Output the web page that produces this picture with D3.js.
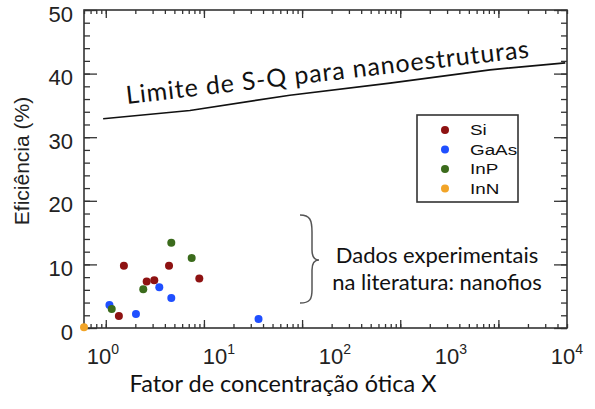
<!DOCTYPE html>
<html>
<head>
<meta charset="utf-8">
<script src="https://cdn.jsdelivr.net/npm/d3@7"></script>
<style>
  body { margin: 0; background: #fff; }
</style>
</head>
<body>
<div id="chart"></div>
<script>
// ===== values =====
var siX   = [1.53, 1.36, 2.61, 3.12, 4.41, 8.97];
var siY   = [9.8, 1.9, 7.3, 7.5, 9.8, 7.8];
var gaasX = [1.09, 2.03, 3.51, 4.65, 36];
var gaasY = [3.6, 2.2, 6.4, 4.7, 1.4];
var inpX  = [1.15, 2.41, 4.65, 7.5];
var inpY  = [3.0, 6.1, 13.4, 11.0];
var innX  = [0.6];
var innY  = [0.1];

// S-Q limit curve
var sqX = [0.94, 7.2, 75, 785, 8200, 48000];
var sqY = [32.9, 34.2, 36.6, 38.5, 40.6, 41.7];

var legendNames  = ["Si", "GaAs", "InP", "InN"];
var legendColors = ["#8e1212", "#1f4fff", "#3b6b1c", "#f2a427"];
var yTickValues  = [0, 10, 20, 30, 40, 50];
var xLabelPowers = [0, 1, 2, 3, 4];

var seriesX = [siX, gaasX, inpX, innX];
var seriesY = [siY, gaasY, inpY, innY];

var svg = d3.select("#chart")
    .append("svg")
    .attr("width", 595)
    .attr("height", 409)

var x = d3.scaleLog().domain([0.6, 5e4]).range([84, 567])
var y = d3.scaleLinear().domain([0, 50]).range([328, 10])
// the tick labels in the figure sit on a slightly wider spacing than the ticks
var xLab = d3.scaleLog().domain([1, 1e4]).range([103, 567])

var majorX = xLabelPowers.map(function(p){ return Math.pow(10, p) })
var minorX = x.ticks()
var minorY = d3.range(0, 51, 2)

function styleTicks(g){
    g.select(".domain").remove()
    g.selectAll("line").attr("stroke", "#333").attr("stroke-width", 1.3)
}

// bottom + top ticks
svg.append("g").attr("transform", "translate(0,328)")
    .call(d3.axisBottom(x).tickValues(minorX).tickSize(-4).tickFormat(""))
    .call(styleTicks)
svg.append("g").attr("transform", "translate(0,328)")
    .call(d3.axisBottom(x).tickValues(majorX).tickSize(-8).tickFormat(""))
    .call(styleTicks)
svg.append("g").attr("transform", "translate(0,10)")
    .call(d3.axisTop(x).tickValues(minorX).tickSize(-4).tickFormat(""))
    .call(styleTicks)
svg.append("g").attr("transform", "translate(0,10)")
    .call(d3.axisTop(x).tickValues(majorX).tickSize(-8).tickFormat(""))
    .call(styleTicks)

// left + right ticks
svg.append("g").attr("transform", "translate(84,0)")
    .call(d3.axisLeft(y).tickValues(minorY).tickSize(-6).tickFormat(""))
    .call(styleTicks)
var yAx = svg.append("g").attr("transform", "translate(84,0)")
    .call(d3.axisLeft(y).tickValues(yTickValues).tickSize(-13).tickPadding(11))
    .call(styleTicks)
yAx.selectAll("text")
    .attr("font-family", "Liberation Sans, Arial, sans-serif")
    .attr("font-size", "22px")
    .attr("fill", "#222")
    .attr("dy", "0.5em")
svg.append("g").attr("transform", "translate(567,0)")
    .call(d3.axisRight(y).tickValues(minorY).tickSize(-6).tickFormat(""))
    .call(styleTicks)
svg.append("g").attr("transform", "translate(567,0)")
    .call(d3.axisRight(y).tickValues(yTickValues).tickSize(-13).tickFormat(""))
    .call(styleTicks)

// frame
svg.append("rect")
    .attr("x", 84).attr("y", 10)
    .attr("width", 567 - 84).attr("height", 328 - 10)
    .attr("fill", "none")
    .attr("stroke", "#333")
    .attr("stroke-width", 1.6)

// x tick labels 10^n
var xl = svg.append("g").selectAll("text")
    .data(xLabelPowers)
    .enter().append("text")
    .attr("x", function(p){ return xLab(Math.pow(10, p)) })
    .attr("y", 364)
    .attr("text-anchor", "middle")
    .attr("font-family", "Liberation Sans, Arial, sans-serif")
    .attr("font-size", "22px")
    .attr("fill", "#222")
xl.append("tspan").text("10")
xl.append("tspan")
    .text(function(p){ return p })
    .attr("font-size", "14px")
    .attr("dy", -10)

// S-Q line
var sqLine = d3.line()
    .x(function(d){ return x(d[0]) })
    .y(function(d){ return y(d[1]) })
svg.append("path")
    .datum(d3.zip(sqX, sqY))
    .attr("d", sqLine)
    .attr("fill", "none")
    .attr("stroke", "#111")
    .attr("stroke-width", 1.7)

svg.append("text")
    .text("Limite de S-Q para nanoestruturas")
    .attr("transform", "translate(127,104) rotate(-6.6)")
    .attr("font-family", "Lato, sans-serif")
    .attr("font-size", "25px")
    .attr("letter-spacing", "0.9px")
    .attr("fill", "#111")

// data points
seriesX.forEach(function(xs, k){
    svg.append("g").selectAll("circle")
        .data(d3.zip(xs, seriesY[k]))
        .enter().append("circle")
        .attr("cx", function(d){ return x(d[0]) })
        .attr("cy", function(d){ return y(d[1]) })
        .attr("r", 4)
        .attr("fill", legendColors[k])
})

// legend (text in the source figure is stretched sideways)
svg.append("rect")
    .attr("x", 417).attr("y", 115)
    .attr("width", 101).attr("height", 87)
    .attr("fill", "#fff")
    .attr("stroke", "#333")
    .attr("stroke-width", 1.6)
var leg = svg.append("g").selectAll("g")
    .data(legendNames)
    .enter().append("g")
    .attr("transform", function(d, i){ return "translate(0," + (i * 19.5) + ")" })
leg.append("circle")
    .attr("cx", 445).attr("cy", 130)
    .attr("r", 4)
    .attr("fill", function(d, i){ return legendColors[i] })
leg.append("text")
    .text(function(d){ return d })
    .attr("transform", "translate(470,135) scale(1.3,1)")
    .attr("font-family", "Liberation Sans, Arial, sans-serif")
    .attr("font-size", "14.5px")
    .attr("fill", "#111")

// brace + note
svg.append("path")
    .attr("d", "M300,215 C310,215 312,220 312,232 L312,250 C312,257 314,260 319,260 C314,260 312,263 312,270 L312,290 C312,299 310,303 300,303")
    .attr("fill", "none")
    .attr("stroke", "#555")
    .attr("stroke-width", 1.5)
var note = svg.append("text")
    .attr("text-anchor", "middle")
    .attr("font-family", "Lato, sans-serif")
    .attr("font-size", "22px")
    .attr("fill", "#111")
note.append("tspan").attr("x", 437).attr("y", 263).text("Dados experimentais")
note.append("tspan").attr("x", 437).attr("y", 290).text("na literatura: nanofios")

// axis titles
svg.append("text")
    .text("Fator de concentração ótica X")
    .attr("x", 283).attr("y", 392)
    .attr("text-anchor", "middle")
    .attr("font-family", "Lato, sans-serif")
    .attr("font-size", "23.5px")
    .attr("fill", "#111")

svg.append("text")
    .text("Eficiência (%)")
    .attr("transform", "translate(29,161) rotate(-90)")
    .attr("text-anchor", "middle")
    .attr("font-family", "Liberation Sans, Arial, sans-serif")
    .attr("font-size", "21px")
    .attr("fill", "#222")
</script>
</body>
</html>
